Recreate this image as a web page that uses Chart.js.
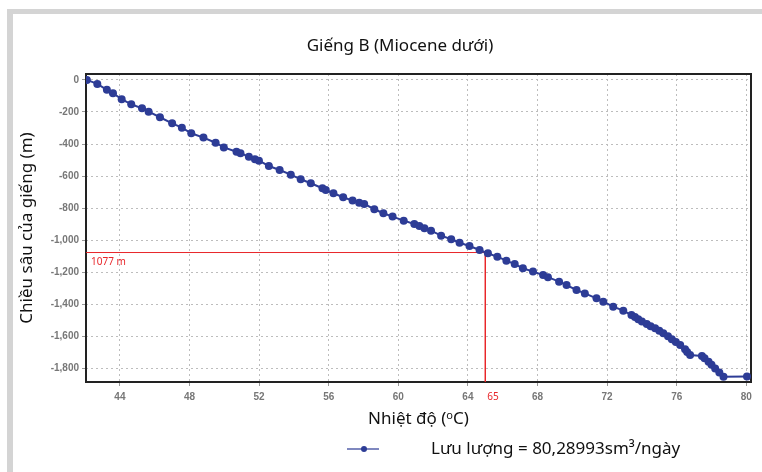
<!DOCTYPE html>
<html lang="vi">
<head>
  <meta charset="UTF-8">
  <title>Giếng B (Miocene dưới)</title>
  <style>
    html, body { margin: 0; padding: 0; background: #fff; }
    .wrap { position: relative; width: 762px; height: 472px; overflow: hidden; }
    .frame { position: absolute; left: 7px; top: 9px; right: -10px; bottom: -10px;
             border-top: 5px solid #d4d4d4; border-left: 6px solid #d4d4d4; }
    canvas { position: absolute; left: 0; top: 0; }
  </style>
</head>
<body>
  <div class="wrap">
    <div class="frame"></div>
    <canvas id="myChart" width="762" height="472"></canvas>
  </div>

  <script src="https://cdn.jsdelivr.net/npm/chart.js"></script>
  <script>
    // temperature (°C) and depth (m)
    const temps = [42.1, 42.7, 43.25, 43.6, 44.1, 44.65, 45.27, 45.65, 46.3, 47.0,
      47.56, 48.1, 48.8, 49.5, 49.97, 50.7, 50.93, 51.41, 51.76, 51.99,
      52.56, 53.18, 53.82, 54.39, 54.97, 55.64, 55.83, 56.27, 56.83, 57.37,
      57.75, 58.04, 58.62, 59.14, 59.67, 60.31, 60.92, 61.21, 61.5, 61.88,
      62.46, 63.04, 63.52, 64.09, 64.67, 65.15, 65.69, 66.21, 66.69, 67.16,
      67.74, 68.32, 68.6, 69.24, 69.67, 70.24, 70.72, 71.39, 71.78, 72.35,
      72.93, 73.4, 73.6, 73.79, 74.0, 74.28, 74.5, 74.76, 75.0, 75.23,
      75.5, 75.72, 75.95, 76.2, 76.48, 76.6, 76.77, 77.45, 77.6, 77.83,
      78.0, 78.21, 78.45, 78.69, 80.04];
    const depths = [0, -25, -62, -83, -120, -152, -177, -198, -233, -271,
      -298, -333, -360, -392, -421, -448, -458, -479, -495, -504,
      -537, -562, -591, -620, -645, -676, -687, -707, -732, -753,
      -766, -774, -807, -832, -853, -878, -899, -911, -926, -941,
      -972, -994, -1016, -1036, -1061, -1082, -1103, -1128, -1149, -1175,
      -1196, -1217, -1231, -1259, -1280, -1311, -1332, -1363, -1384, -1415,
      -1440, -1467, -1480, -1494, -1508, -1523, -1537, -1550, -1565, -1581,
      -1600, -1619, -1636, -1654, -1681, -1698, -1717, -1723, -1737, -1758,
      -1778, -1800, -1826, -1852, -1850];
    const xTicks = [44, 48, 52, 56, 60, 64, 68, 72, 76, 80];
    const yTicks = [0, -200, -400, -600, -800, -1000, -1200, -1400, -1600, -1800];
    const markTemp = 65;
    const markDepth = -1077;

    const X_MIN = 42.05, X_MAX = 80.27, Y_MIN = -1885, Y_MAX = 37;
    const BLUE = '#2d3c96';
    const RED = '#e8262a';

    const points = temps.map((t, i) => ({ x: t, y: depths[i] }));
    const markLine = [
      { x: X_MIN, y: markDepth },
      { x: markTemp, y: markDepth },
      { x: markTemp, y: Y_MIN }
    ];

    const extras = {
      id: 'extras',
      beforeDatasetsDraw(chart) {
        const { ctx, chartArea: a } = chart;
        ctx.save();
        ctx.strokeStyle = '#222';
        ctx.lineWidth = 2;
        ctx.strokeRect(a.left, a.top, a.right - a.left, a.bottom - a.top);
        ctx.restore();
      },
      afterDraw(chart) {
        const { ctx, chartArea: a, scales } = chart;
        ctx.save();
        ctx.textBaseline = 'middle';

        // chart title
        ctx.fillStyle = '#111';
        ctx.font = '17px "Noto Sans"';
        ctx.textAlign = 'center';
        ctx.fillText('Giếng B (Miocene dưới)', 400, 46);

        ctx.fillStyle = RED;
        ctx.font = '10px "Noto Sans"';
        ctx.textAlign = 'left';
        ctx.fillText('1077 m', a.left + 5, scales.y.getPixelForValue(markDepth) + 10);
        ctx.fillText('65', scales.x.getPixelForValue(markTemp) + 2, a.bottom + 15);

        // legend
        const ly = 449;
        ctx.strokeStyle = '#5560aa';
        ctx.lineWidth = 1.5;
        ctx.beginPath();
        ctx.moveTo(347, ly);
        ctx.lineTo(379, ly);
        ctx.stroke();
        ctx.fillStyle = BLUE;
        ctx.beginPath();
        ctx.arc(364, ly, 3, 0, Math.PI * 2);
        ctx.fill();
        ctx.fillStyle = '#111';
        ctx.font = '17px "Noto Sans"';
        ctx.fillText('Lưu lượng = 80,28993sm³/ngày', 431, ly);
        ctx.restore();
      }
    };

    const tickFont = { family: '"Liberation Sans", Arial, sans-serif', size: 10, weight: 'bold' };
    const titleFont = { family: '"Noto Sans"', size: 17, weight: 'normal' };

    new Chart(document.getElementById('myChart'), {
      type: 'line',
      data: {
        datasets: [
          {
            label: 'Lưu lượng = 80,28993sm³/ngày',
            data: points,
            borderColor: BLUE,
            backgroundColor: BLUE,
            borderWidth: 2,
            pointRadius: 4,
            pointBorderWidth: 0,
            tension: 0,
            order: 1
          },
          {
            label: 'mark',
            data: markLine,
            borderColor: RED,
            borderWidth: 1,
            pointRadius: 0,
            tension: 0,
            order: 2
          }
        ]
      },
      options: {
        responsive: false,
        animation: false,
        layout: { padding: { left: 14, right: 11, top: 74, bottom: 40 } },
        plugins: {
          legend: { display: false },
          tooltip: { enabled: false },
          title: { display: false }
        },
        scales: {
          x: {
            type: 'linear',
            min: X_MIN,
            max: X_MAX,
            afterBuildTicks: s => { s.ticks = xTicks.map(v => ({ value: v })); },
            afterFit: s => { s.height = 50; },
            ticks: { color: '#777', font: tickFont, padding: 5, maxRotation: 0 },
            grid: { color: '#bdbdbd', drawTicks: true, tickLength: 4, tickColor: '#999' },
            border: { display: false, dash: [2, 3] },
            title: { display: true, text: 'Nhiệt độ (ᵒC)', color: '#111', font: titleFont, padding: { top: 2, bottom: 3 } }
          },
          y: {
            type: 'linear',
            min: Y_MIN,
            max: Y_MAX,
            afterBuildTicks: s => { s.ticks = yTicks.map(v => ({ value: v })); },
            afterFit: s => { s.width = 72; },
            ticks: { color: '#777', font: tickFont, padding: 3, callback: v => v.toLocaleString('en-US') },
            grid: { color: '#bdbdbd', drawTicks: true, tickLength: 4, tickColor: '#999' },
            border: { display: false, dash: [2, 3] },
            title: { display: true, text: 'Chiều sâu của giếng (m)', color: '#111', font: titleFont, padding: { top: 3, bottom: 4 } }
          }
        }
      },
      plugins: [extras]
    });
  </script>
</body>
</html>
